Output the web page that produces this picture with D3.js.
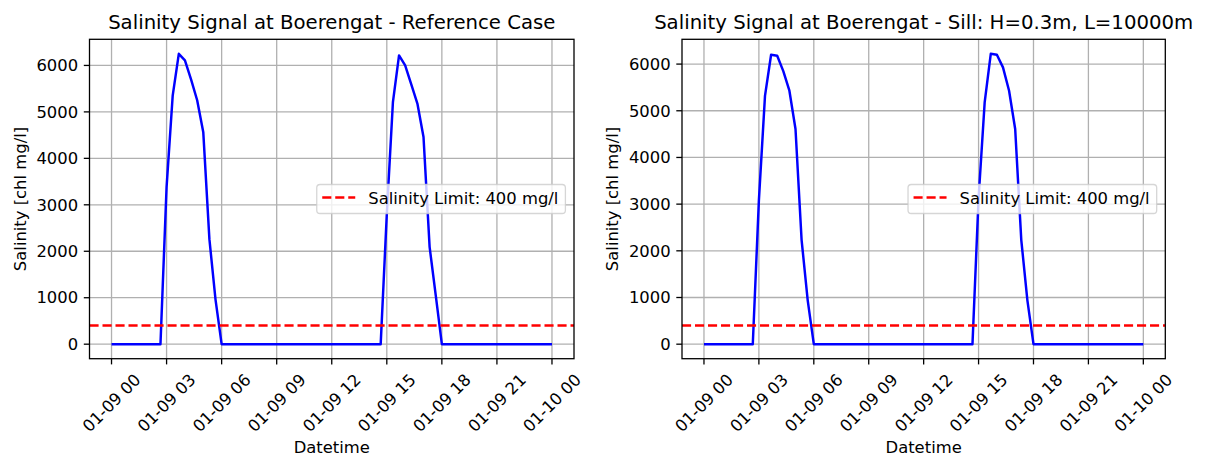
<!DOCTYPE html>
<html>
<head>
<meta charset="utf-8">
<script src="https://cdn.jsdelivr.net/npm/d3@7/dist/d3.min.js"></script>
<style>
  html, body { margin: 0; padding: 0; background: #ffffff; }
  svg { display: block; }
  text { font-family: "DejaVu Sans", sans-serif; fill: #000000; }
</style>
</head>
<body>
<svg id="chart" width="1205" height="457"></svg>
<script>
// ---------------- DATA ----------------
const timesRef = ["01-09 00:00","01-09 02:40","01-09 03:00","01-09 03:20","01-09 03:40","01-09 04:00","01-09 04:20","01-09 04:40","01-09 05:00","01-09 05:20","01-09 05:40","01-09 06:00",
                  "01-09 14:40","01-09 15:00","01-09 15:20","01-09 15:40","01-09 16:00","01-09 16:20","01-09 16:40","01-09 17:00","01-09 17:20","01-09 17:40","01-09 18:00","01-10 00:00"];
const salinityRef = [0, 0, 3380, 5350, 6250, 6110, 5700, 5250, 4560, 2260, 960, 0,
                     0, 2800, 5210, 6215, 6000, 5590, 5180, 4460, 2090, 1050, 0, 0];

const timesSill = ["01-09 00:00","01-09 02:40","01-09 03:00","01-09 03:20","01-09 03:40","01-09 04:00","01-09 04:20","01-09 04:40","01-09 05:00","01-09 05:20","01-09 05:40","01-09 06:00",
                   "01-09 14:40","01-09 15:00","01-09 15:20","01-09 15:40","01-09 16:00","01-09 16:20","01-09 16:40","01-09 17:00","01-09 17:20","01-09 17:40","01-09 18:00","01-10 00:00"];
const salinitySill = [0, 0, 3080, 5320, 6200, 6180, 5850, 5430, 4610, 2230, 940, 0,
                      0, 3120, 5180, 6220, 6200, 5930, 5430, 4610, 2230, 940, 0, 0];

const salinityLimit = 400;
const legendLabel = "Salinity Limit: 400 mg/l";
const titles = ["Salinity Signal at Boerengat - Reference Case",
                "Salinity Signal at Boerengat - Sill: H=0.3m, L=10000m"];
const xTickLabels = ["01-09 00","01-09 03","01-09 06","01-09 09","01-09 12","01-09 15","01-09 18","01-09 21","01-10 00"];
const yTickValues = [0, 1000, 2000, 3000, 4000, 5000, 6000];
const xLabel = "Datetime";
const yLabel = "Salinity [chl mg/l]";

// ---------------- DRAW ----------------
const parseT = d3.timeParse("%m-%d %H:%M");
const parseTick = d3.timeParse("%m-%d %H");
const svg = d3.select("#chart");

const FS = 16.4, TFS = 19.7;
const tickLen = 5.7, tickPad = 5.7;

const panels = [
  { x0: 89.5, x1: 574, times: timesRef, vals: salinityRef, title: titles[0] },
  { x0: 682, x1: 1165.3, times: timesSill, vals: salinitySill, title: titles[1] }
];
const y0 = 39.3, y1 = 358.7;

panels.forEach(p => {
  const data = p.times.map((t, i) => ({ t: parseT(t), v: p.vals[i] }));
  const tMin = d3.min(data, d => d.t), tMax = d3.max(data, d => d.t);
  const span = tMax - tMin;
  const x = d3.scaleTime()
    .domain([new Date(+tMin - 0.05 * span), new Date(+tMax + 0.05 * span)])
    .range([p.x0, p.x1]);
  const vMin = d3.min(data, d => d.v), vMax = d3.max(data, d => d.v);
  const vs = vMax - vMin;
  const y = d3.scaleLinear().domain([vMin - 0.05 * vs, vMax + 0.05 * vs]).range([y1, y0]);

  const g = svg.append("g");
  const xTicks = xTickLabels.map(s => parseTick(s));

  // grid
  g.append("g").selectAll("line").data(xTicks).join("line")
    .attr("x1", d => x(d)).attr("x2", d => x(d)).attr("y1", y0).attr("y2", y1)
    .attr("stroke", "#b0b0b0").attr("stroke-width", 1.3);
  g.append("g").selectAll("line").data(yTickValues).join("line")
    .attr("x1", p.x0).attr("x2", p.x1).attr("y1", d => y(d)).attr("y2", d => y(d))
    .attr("stroke", "#b0b0b0").attr("stroke-width", 1.3);

  // salinity line
  const line = d3.line().x(d => x(d.t)).y(d => y(d.v));
  g.append("path").datum(data).attr("d", line)
    .attr("fill", "none").attr("stroke", "#0000ff").attr("stroke-width", 2.46)
    .attr("stroke-linejoin", "round").attr("stroke-linecap", "butt");

  // limit line
  g.append("line")
    .attr("x1", p.x0).attr("x2", p.x1).attr("y1", y(salinityLimit)).attr("y2", y(salinityLimit))
    .attr("stroke", "#ff0000").attr("stroke-width", 2.46).attr("stroke-dasharray", "9.1,3.9");

  // spines
  g.append("rect").attr("x", p.x0).attr("y", y0).attr("width", p.x1 - p.x0).attr("height", y1 - y0)
    .attr("fill", "none").attr("stroke", "#000").attr("stroke-width", 1.3);

  // y ticks
  const yt = g.append("g");
  yTickValues.forEach(v => {
    yt.append("line").attr("x1", p.x0 - tickLen).attr("x2", p.x0).attr("y1", y(v)).attr("y2", y(v))
      .attr("stroke", "#000").attr("stroke-width", 1.3);
    yt.append("text").attr("x", p.x0 - tickLen - tickPad).attr("y", y(v))
      .attr("text-anchor", "end").attr("dy", "0.35em").style("font-size", FS + "px").text(d3.format("d")(v));
  });

  // x ticks
  const xt = g.append("g");
  xTicks.forEach((t, i) => {
    xt.append("line").attr("x1", x(t)).attr("x2", x(t)).attr("y1", y1).attr("y2", y1 + tickLen)
      .attr("stroke", "#000").attr("stroke-width", 1.3);
    const txt = xt.append("text").style("font-size", FS + "px").attr("text-anchor", "middle")
      .attr("dy", "0.35em").text(xTickLabels[i]);
    const w = txt.node().getComputedTextLength();
    const h = FS * 1.16;
    const H = (w + h) * Math.SQRT1_2;
    const cy = y1 + tickLen + tickPad + H / 2;
    txt.attr("transform", `translate(${x(t)},${cy}) rotate(-45)`);
  });

  // title
  g.append("text").attr("x", (p.x0 + p.x1) / 2).attr("y", 29.3).attr("text-anchor", "middle")
    .style("font-size", TFS + "px").text(p.title);

  // x label
  g.append("text").attr("x", (p.x0 + p.x1) / 2).attr("y", 453).attr("text-anchor", "middle")
    .style("font-size", FS + "px").text(xLabel);

  // y label
  const ylx = p.x0 - tickLen - tickPad - 41.7 - 6.6 - 3.9;
  g.append("text").attr("transform", `translate(${ylx},${(y0 + y1) / 2}) rotate(-90)`)
    .attr("text-anchor", "middle").style("font-size", FS + "px").text(yLabel);

  // legend
  const lg = g.append("g");
  const lt = lg.append("text").style("font-size", FS + "px").text(legendLabel);
  const tw = lt.node().getComputedTextLength();
  const bh = 29;
  const bw = 5.5 + 33 + 13 + tw + 7;
  const bx = p.x1 - 8.6 - bw;
  const cyL = (y0 + y1) / 2;
  lg.insert("rect", "text").attr("x", bx).attr("y", cyL - bh / 2).attr("width", bw).attr("height", bh)
    .attr("rx", 3.3).attr("ry", 3.3)
    .attr("fill", "#ffffff").attr("fill-opacity", 0.8).attr("stroke", "#cccccc").attr("stroke-opacity", 0.8).attr("stroke-width", 1.3);
  lg.insert("line", "text").attr("x1", bx + 5.5).attr("x2", bx + 5.5 + 33).attr("y1", cyL - 1.5).attr("y2", cyL - 1.5)
    .attr("stroke", "#ff0000").attr("stroke-width", 2.46).attr("stroke-dasharray", "9.1,3.9");
  lt.attr("x", bx + 5.5 + 33 + 13).attr("y", cyL + 0.32 * FS);
});
</script>
</body>
</html>
